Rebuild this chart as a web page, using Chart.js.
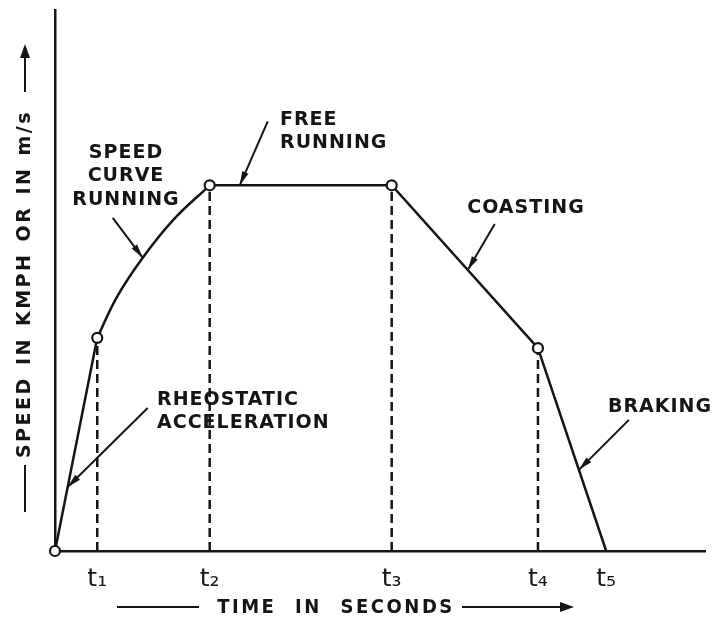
<!DOCTYPE html>
<html>
<head>
<meta charset="utf-8">
<script src="https://cdn.jsdelivr.net/npm/chart.js@4.4.1/dist/chart.umd.min.js"></script>
<style>
  html, body { margin: 0; padding: 0; background: #fff; }
  #wrap { width: 715px; height: 622px; }
</style>
</head>
<body>
<div id="wrap"><canvas id="grafico"></canvas></div>
<script>
// Run phases: start, t1 .. t5 (time in s, speed)
const phaseTimes = [0, 6.5, 23.8, 51.8, 74.3, 84.8];
const phaseSpeeds = [0, 39.4, 67.6, 67.6, 37.5, 0];

// Speed curve running, between t1 and t2
const curveTimes = [6.5, 9.5, 13.5, 18.2, 23.8];
const curveSpeeds = [39.4, 46.9, 54.2, 61.2, 67.6];

const tickLabels = ['t\u2081', 't\u2082', 't\u2083', 't\u2084', 't\u2085'];

const INK = '#151515';
const LABEL_FONT = 'bold 19px "DejaVu Sans"';

// straight parts of the run; the gap leaves room for the curved part
const straightPts = phaseTimes.map((t, i) => ({ x: t, y: phaseSpeeds[i] }));
straightPts.splice(2, 0, { x: (phaseTimes[1] + phaseTimes[2]) / 2, y: null });

const curvePts = curveTimes.map((t, i) => ({ x: t, y: curveSpeeds[i] }));

// dashed drop lines from t1..t4 down to the time axis
const dropLines = phaseTimes.slice(1, 5).map((t, i) => ({
    data: [{ x: t, y: 0 }, { x: t, y: phaseSpeeds[i + 1] }],
    showLine: true,
    borderColor: INK,
    borderWidth: 2.5,
    borderDash: [9, 5],
    pointRadius: 0,
    order: 3
}));

const markers = phaseTimes.slice(0, 5).map((t, i) => ({ x: t, y: phaseSpeeds[i] }));

// point on the run between phase i and i+1
function along(chart, i, f) {
    const { x, y } = chart.scales;
    const t = phaseTimes[i] + (phaseTimes[i + 1] - phaseTimes[i]) * f;
    const v = phaseSpeeds[i] + (phaseSpeeds[i + 1] - phaseSpeeds[i]) * f;
    return [x.getPixelForValue(t), y.getPixelForValue(v)];
}

function onCurve(chart, i) {
    const { x, y } = chart.scales;
    return [x.getPixelForValue(curveTimes[i]), y.getPixelForValue(curveSpeeds[i])];
}

// labels with leader arrows
const callouts = [
    { lines: ['SPEED', 'CURVE', 'RUNNING'], align: 'center', pos: [126, 153], tip: c => onCurve(c, 2), tail: [-30, -40] },
    { lines: ['FREE', 'RUNNING'], align: 'left', pos: [280, 120], tip: c => along(c, 2, 0.165), tail: [28, -64] },
    { lines: ['COASTING'], align: 'center', pos: [526, 208], tip: c => along(c, 3, 0.52), tail: [27, -46] },
    { lines: ['BRAKING'], align: 'left', pos: [608, 407], tip: c => along(c, 4, 0.6), tail: [50, -50] },
    { lines: ['RHEOSTATIC', 'ACCELERATION'], align: 'left', pos: [157, 400], tip: c => along(c, 0, 0.3), tail: [80, -79] }
];

function arrowHead(ctx, x0, y0, x1, y1, len, half) {
    const a = Math.atan2(y1 - y0, x1 - x0);
    ctx.beginPath();
    ctx.moveTo(x1, y1);
    ctx.lineTo(x1 - len * Math.cos(a) + half * Math.sin(a), y1 - len * Math.sin(a) - half * Math.cos(a));
    ctx.lineTo(x1 - len * Math.cos(a) - half * Math.sin(a), y1 - len * Math.sin(a) + half * Math.cos(a));
    ctx.closePath();
    ctx.fill();
}

function line(ctx, x0, y0, x1, y1) {
    ctx.beginPath();
    ctx.moveTo(x0, y0);
    ctx.lineTo(x1, y1);
    ctx.stroke();
}

const labelsPlugin = {
    id: 'labels',
    afterDatasetsDraw(chart) {
        const ctx = chart.ctx;
        ctx.save();
        ctx.strokeStyle = INK;
        ctx.fillStyle = INK;
        ctx.lineWidth = 2;
        ctx.textBaseline = 'middle';

        callouts.forEach(co => {
            ctx.font = LABEL_FONT;
            ctx.letterSpacing = '1px';
            ctx.textAlign = co.align;
            co.lines.forEach((txt, k) => ctx.fillText(txt, co.pos[0], co.pos[1] + k * 23.5));
            const [tx, ty] = co.tip(chart);
            const sx = tx + co.tail[0], sy = ty + co.tail[1];
            line(ctx, sx, sy, tx, ty);
            arrowHead(ctx, sx, sy, tx, ty, 14, 3.4);
        });

        // time axis title
        ctx.font = 'bold 20px "DejaVu Sans Condensed"';
        ctx.letterSpacing = '2.5px';
        ctx.wordSpacing = '10px';
        ctx.textAlign = 'center';
        ctx.fillText('TIME IN SECONDS', 336, 608);
        line(ctx, 117, 607, 199, 607);
        line(ctx, 462, 607, 562, 607);
        arrowHead(ctx, 462, 607, 574, 607, 14, 5);

        // speed axis title
        ctx.save();
        ctx.translate(25, 284);
        ctx.rotate(-Math.PI / 2);
        ctx.font = LABEL_FONT;
        ctx.letterSpacing = '2.5px';
        ctx.wordSpacing = '2px';
        ctx.fillText('SPEED IN KMPH OR IN m/s', 0, 0);
        ctx.restore();
        line(ctx, 25, 465, 25, 512);
        line(ctx, 25, 92, 25, 55);
        arrowHead(ctx, 25, 92, 25, 44, 14, 5);
        ctx.restore();
    }
};

new Chart(document.getElementById('grafico'), {
    type: 'scatter',
    data: {
        datasets: [
            {
                data: markers,
                showLine: false,
                pointRadius: 5,
                pointBorderWidth: 2.2,
                pointBackgroundColor: '#fff',
                pointBorderColor: INK,
                clip: false,
                order: 0
            },
            {
                data: straightPts,
                showLine: true,
                spanGaps: false,
                borderColor: INK,
                borderWidth: 2.5,
                pointRadius: 0,
                clip: false,
                order: 1
            },
            {
                data: curvePts,
                showLine: true,
                tension: 0.4,
                borderColor: INK,
                borderWidth: 2.5,
                pointRadius: 0,
                clip: false,
                order: 2
            },
            ...dropLines
        ]
    },
    options: {
        responsive: true,
        maintainAspectRatio: false,
        animation: false,
        layout: { padding: { left: 55, right: 10, top: 10, bottom: 0 } },
        plugins: {
            legend: { display: false },
            tooltip: { enabled: false }
        },
        scales: {
            x: {
                type: 'linear',
                min: 0,
                max: 100,
                grid: { display: false, drawTicks: false },
                border: { color: INK, width: 2.5 },
                afterBuildTicks: scale => {
                    scale.ticks = phaseTimes.slice(1).map(v => ({ value: v }));
                },
                afterFit: scale => { scale.height = 71; },
                ticks: {
                    autoSkip: false,
                    maxRotation: 0,
                    padding: 13,
                    color: INK,
                    font: { family: '"DejaVu Sans"', size: 25 },
                    callback: (v, i) => tickLabels[i]
                }
            },
            y: {
                type: 'linear',
                min: 0,
                max: 100,
                grid: { display: false, drawTicks: false },
                border: { color: INK, width: 2.5 },
                afterFit: scale => { scale.width = 0; },
                ticks: { display: false }
            }
        }
    },
    plugins: [labelsPlugin]
});
</script>
</body>
</html>
